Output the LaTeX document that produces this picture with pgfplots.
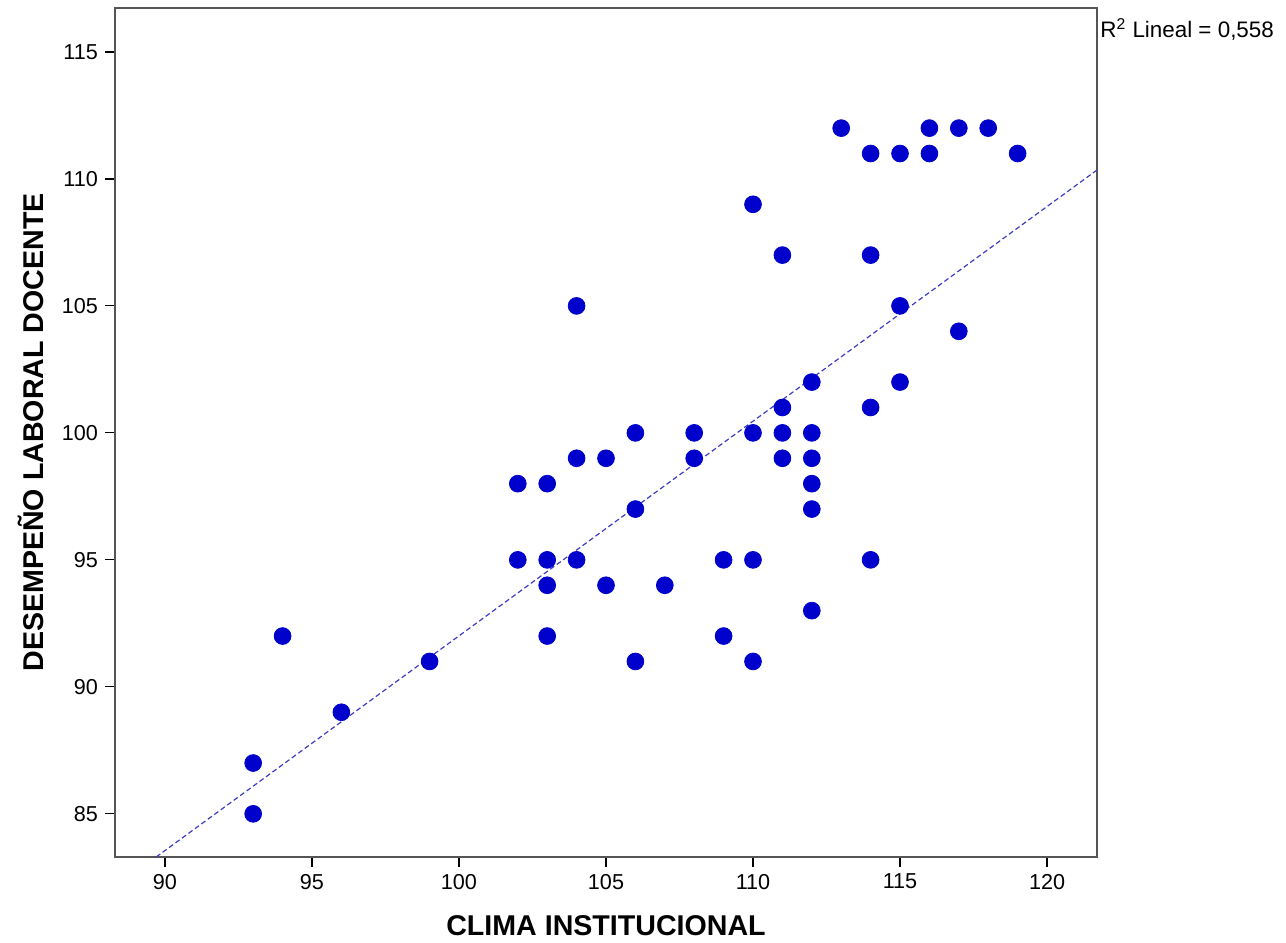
\documentclass[border=0pt]{standalone}
\usepackage{fontspec}
\setmainfont{Liberation Sans}
\usepackage{pgfplots}
\pgfplotsset{compat=1.18}
\definecolor{ptblue}{RGB}{0,0,204}
\definecolor{fitblue}{RGB}{60,60,200}
\definecolor{frame}{RGB}{85,85,85}
\begin{document}
\begin{tikzpicture}
\begin{axis}[
  scale only axis,
  width=491pt, height=424.5pt,
  xmin=88.3, xmax=121.7,
  ymin=83.3, ymax=116.73,
  xtick={90,95,...,120},
  ytick={85,90,...,115},
  tick align=outside,
  tick pos=left,
  major tick length=5pt,
  axis line style={frame, line width=1.3pt},
  tick style={black, line width=0.6pt},
  ticklabel style={font=\fontsize{10.8}{12}\selectfont},
  /pgf/number format/assume math mode=true,
  xlabel={\textbf{CLIMA INSTITUCIONAL}},
  ylabel={\textbf{DESEMPEÑO LABORAL DOCENTE}},
  label style={font=\fontsize{14.3}{16}\selectfont},
  xlabel style={yshift=-6pt},
  ylabel style={yshift=2pt},
  clip=false,
]
\addplot[fitblue, line width=0.6pt, dash pattern=on 2.5pt off 1.5pt] coordinates {(89.7,83.3) (121.7,110.35)};
\addplot[only marks, mark=*, mark size=4.2pt, color=ptblue] coordinates {
(93,87) (93,85) (94,92) (96,89) (99,91)
(102,98) (102,95)
(103,98) (103,95) (103,94) (103,92)
(104,105) (104,99) (104,95)
(105,99) (105,94)
(106,100) (106,97) (106,91)
(107,94)
(108,100) (108,99)
(109,95) (109,92)
(110,109) (110,100) (110,95) (110,91)
(111,107) (111,101) (111,100) (111,99)
(112,102) (112,100) (112,99) (112,98) (112,97) (112,93)
(113,112)
(114,111) (114,107) (114,101) (114,95)
(115,111) (115,105) (115,102)
(116,112) (116,111)
(117,112) (117,104)
(118,112)
(119,111)
};
\node[anchor=north west, inner sep=0pt, font=\fontsize{11.2}{12}\selectfont] at ([xshift=1.5pt,yshift=-5pt]current axis.north east) {R\textsuperscript{2} Lineal = 0,558};
\end{axis}
\pgfresetboundingbox
\path ([shift={(-57.5pt,-43pt)}]current axis.south west) rectangle ([shift={(94.5pt,4pt)}]current axis.north east);
\end{tikzpicture}
\end{document}
